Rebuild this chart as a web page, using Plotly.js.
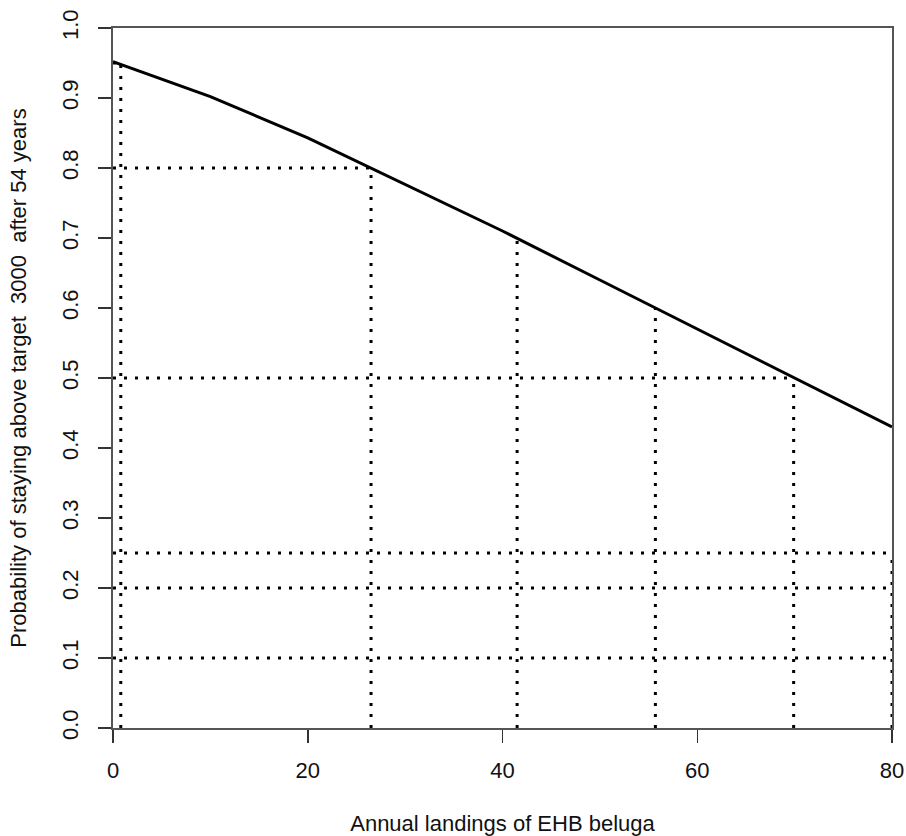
<!DOCTYPE html>
<html>
<head>
<meta charset="utf-8">
<script src="https://cdn.plot.ly/plotly-3.0.1.min.js"></script>
<style>html,body{margin:0;padding:0;background:#fff;}#chart{width:906px;height:836px;}</style>
</head>
<body>
<div id="chart"></div>
<script>
// Curve: probability of staying above target vs annual landings
const landings = [0, 10, 20, 30, 40, 50, 60, 70, 80];
const probability = [0.952, 0.902, 0.843, 0.777, 0.710, 0.640, 0.570, 0.499, 0.430];

// Horizontal reference lines: probability level and landing where they stop
const hLevels = [0.95, 0.8, 0.5, 0.25, 0.2, 0.1];
const hLandings = [0.8, 26.5, 69.9, 80, 80, 80];

// Vertical reference lines: landing and probability where they stop
const vLandings = [0.8, 26.5, 41.5, 55.7, 69.9, 80];
const vLevels = [0.95, 0.8, 0.7, 0.6, 0.5, 0.25];

const xTicks = [0, 20, 40, 60, 80];
const yTicks = [0.0, 0.1, 0.2, 0.3, 0.4, 0.5, 0.6, 0.7, 0.8, 0.9, 1.0];

const dotLine = {color: '#000', width: 3, dash: '3px,8px'};
const traces = [];
hLevels.forEach((p, i) => {
  traces.push({type: 'scatter', mode: 'lines', x: [0, hLandings[i]], y: [p, p],
    line: dotLine, hoverinfo: 'skip', showlegend: false});
});
vLandings.forEach((xv, i) => {
  traces.push({type: 'scatter', mode: 'lines', x: [xv, xv], y: [0, vLevels[i]],
    line: dotLine, hoverinfo: 'skip', showlegend: false});
});
traces.push({
  type: 'scatter', mode: 'lines',
  x: landings, y: probability,
  line: {color: '#000', width: 3},
  showlegend: false
});

const font = {family: 'Liberation Sans, Arial, sans-serif', size: 22, color: '#111'};

const layout = {
  width: 906, height: 836,
  margin: {l: 113, r: 14, t: 28, b: 108},
  paper_bgcolor: '#fff', plot_bgcolor: '#fff',
  font: font,
  showlegend: false,
  xaxis: {
    range: [0, 80], tickvals: xTicks, ticktext: xTicks.map(String),
    showgrid: false, zeroline: false,
    showline: true, mirror: true, linecolor: '#555', linewidth: 2,
    ticks: 'outside', ticklen: 13, tickwidth: 1.5, tickcolor: '#333',
    ticklabelstandoff: 9,
    title: {text: 'Annual landings of EHB beluga', font: font, standoff: 33}
  },
  yaxis: {
    range: [0, 1], tickvals: yTicks, ticktext: yTicks.map(v => v.toFixed(1)),
    tickangle: -90,
    showgrid: false, zeroline: false,
    showline: true, mirror: true, linecolor: '#555', linewidth: 2,
    ticks: 'outside', ticklen: 13, tickwidth: 1.5, tickcolor: '#333',
    ticklabelstandoff: 11,
    title: {text: 'Probability of staying above target  3000  after 54 years', font: font, standoff: 26}
  }
};

Plotly.newPlot('chart', traces, layout, {displayModeBar: false, staticPlot: true});
</script>
</body>
</html>
